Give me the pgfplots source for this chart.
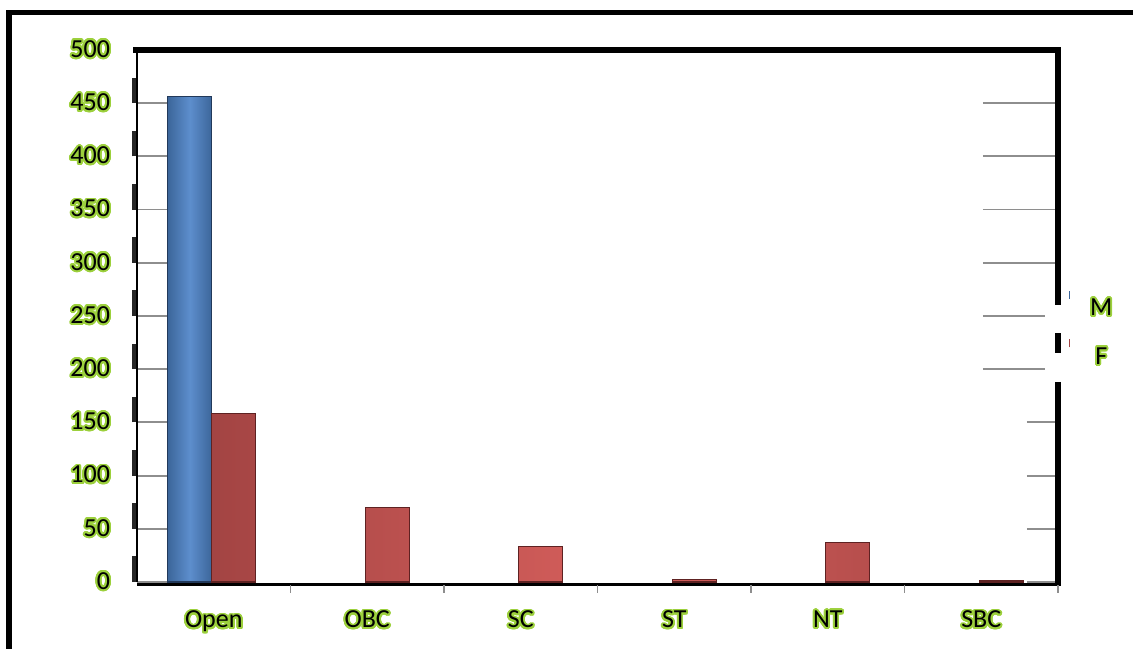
\documentclass[border=0pt]{standalone}
\usepackage{pgfplots}
\pgfplotsset{compat=1.18}
\usepackage{fontspec}
\setmainfont{Carlito}
\usepackage{contour}
\contourlength{0.95pt}
\contournumber{28}
\definecolor{glow}{HTML}{9CD03C}
\definecolor{mblueL}{HTML}{5D8ECD}
\definecolor{mblueD}{HTML}{3C669A}
\definecolor{mblueE}{HTML}{22395A}
\definecolor{fredL}{HTML}{D65F5C}
\definecolor{fredD}{HTML}{A34443}
\definecolor{fredE}{HTML}{5E2222}
\definecolor{gridc}{HTML}{8E8E8E}
\newcommand{\gl}[1]{\contour{glow}{#1}}
\begin{document}
\begin{tikzpicture}
\useasboundingbox (0,0) rectangle (566.5pt,324pt);
\draw[line width=2.6pt] (4.5pt,-20pt) -- (4.5pt,317.75pt) -- (620pt,317.75pt);
\begin{axis}[
  at={(68.5pt,33pt)}, anchor=south west,
  scale only axis, width=460.5pt, height=266pt,
  xmin=-0.5, xmax=5.5, ymin=0, ymax=500,
  clip=false,
  axis line style={draw=none},
  xtick={0,1,2,3,4,5},
  xticklabels={\gl{Open},\gl{OBC},\gl{SC},\gl{ST},\gl{NT},\gl{SBC}},
  ytick={0,50,...,500},
  yticklabels={\gl{0},\gl{50},\gl{100},\gl{150},\gl{200},\gl{250},\gl{300},\gl{350},\gl{400},\gl{450},\gl{500}},
  major tick length=0pt,
  xtick style={draw=none}, ytick style={draw=none},
  tick label style={font=\fontsize{13}{15}\selectfont},
  yticklabel style={xshift=-10pt},
  xticklabel style={yshift=-11pt},
  legend style={at={(1.011,0.479)}, anchor=west, draw=none, fill=none,
    inner sep=0pt, column sep=10pt, row sep=11.5pt,
    nodes={inner sep=0pt, text height=8pt, text depth=0pt},
    font=\fontsize{13}{15}\selectfont},
]
\addlegendimage{legend image code/.code={\draw[mblueD, line width=0.8pt] (0pt,4.5pt) -- (0pt,8.5pt);}}
\addlegendentry{\gl{M}}
\addlegendimage{legend image code/.code={\draw[fredD, line width=0.8pt] (0pt,4.5pt) -- (0pt,8.5pt);}}
\addlegendentry{\gl{F}}
% grid segments
\pgfplotsinvokeforeach{0,50,100,150,200,250,300,350,400,450}{
  \draw[gridc, line width=0.9pt] (axis cs:-0.5,#1) -- (axis cs:-0.3046,#1);
}
\pgfplotsinvokeforeach{300,350,400,450}{
  \draw[gridc, line width=0.9pt] (axis cs:5.011,#1) -- (axis cs:5.5,#1);
}
\pgfplotsinvokeforeach{200,250}{
  \draw[gridc, line width=0.9pt] (axis cs:5.011,#1) -- (axis cs:5.415,#1);
}
\pgfplotsinvokeforeach{0,50,100,150}{
  \draw[gridc, line width=0.9pt] (axis cs:5.298,#1) -- (axis cs:5.5,#1);
}
\addplot[forget plot, ybar, bar width=22pt, bar shift=-12pt, draw=mblueE, line width=0.6pt,
  left color=mblueD, right color=mblueD, middle color=mblueL]
  coordinates {(0,456)};
\addplot[forget plot, ybar, bar width=22pt, bar shift=10pt, draw=fredE, line width=0.6pt,
  left color=fredD, right color=fredD, middle color=fredL]
  coordinates {(0,158) (1,70) (2,33) (3,2) (4,37) (5,1)};
% left axis: thin line + dashes
\draw[black, line width=0.6pt] (axis cs:-0.5,0) -- (axis cs:-0.5,500);
\pgfplotsinvokeforeach{0,50,100,150,200,250,300,350,400,450}{
  \draw[black!85, line width=1.6pt] ([xshift=-1.5pt]axis cs:-0.5,#1) -- ([xshift=-1.5pt,yshift=12.8pt]axis cs:-0.5,#1);
}
% top and right borders
\draw[line width=2.6pt] ([xshift=-2pt]axis cs:-0.5,500) -- (axis cs:5.5,500) -- (axis cs:5.5,260.3);
\draw[line width=2.6pt] (axis cs:5.5,234) -- (axis cs:5.5,215.2);
\draw[line width=2.6pt] (axis cs:5.5,188) -- ([yshift=-1.8pt]axis cs:5.5,0);
% bottom axis
\draw[black, line width=1.4pt] ([yshift=-1.2pt]axis cs:-0.5,0) -- ([yshift=-1.2pt]axis cs:5.5,0);
\pgfplotsinvokeforeach{0.5,1.5,2.5,3.5,4.5,5.5}{
  \draw[gridc, line width=0.8pt] ([yshift=-1.5pt]axis cs:#1,0) -- ([yshift=-5.5pt]axis cs:#1,0);
}
\end{axis}
\end{tikzpicture}
\end{document}
